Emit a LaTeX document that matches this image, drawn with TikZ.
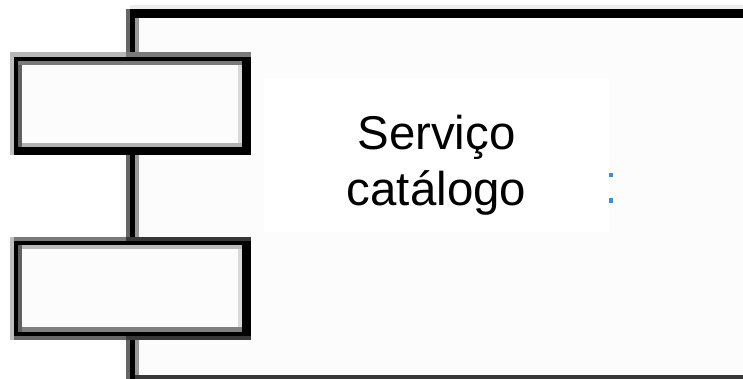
\documentclass[tikz,border=0pt]{standalone}
\usepackage{fontspec}
\setmainfont{Liberation Sans}
\definecolor{panel}{HTML}{FCFCFC}
\definecolor{dotblue}{HTML}{3A8FDC}
\tikzset{
  x=1pt,y=-1pt,
  dot/.style={fill=dotblue,inner sep=0pt,minimum width=4pt,minimum height=4.5pt,draw=none},
  labelbox/.style={fill=white,minimum width=345pt,minimum height=154pt,inner sep=0pt},
  labeltext/.style={text width=345pt,inner sep=0pt,align=center,font=\fontsize{47.4pt}{56.5pt}\selectfont}
}
\begin{document}
\begin{tikzpicture}
\useasboundingbox[fill=white] (0,0) rectangle (743,379);
% main panel
\fill[panel] (139,18) rectangle (743,375);
\fill[black!7] (130,5) rectangle (743,9);
\fill[black] (130,9) rectangle (743,18);
\fill[black!60] (126,9) rectangle (130,379);
\fill[black] (130,9) rectangle (135,379);
\fill[black!40] (135,18) rectangle (139,379);
\fill[black!78] (135,375) rectangle (743,379);
% label
\node[labelbox] (lbl) at (436.5,155) {};
\node[labeltext] (txt) at (436.5,165) {Serviço\\catálogo};
\node[dot] (d1) at (611,175) {};
\node[dot] (d2) at (611,200.5) {};
% upper port
\fill[black!28] (10,52) rectangle (126,57);
\fill[black!52] (126,52) rectangle (251,57);
\fill[black!25] (10,57) rectangle (14,155);
\fill[black] (14,57) rectangle (251,155);
\fill[panel] (18,61) rectangle (242,147);
\fill[black!52] (18,61) rectangle (242,65);
\fill[black!30] (18,143) rectangle (242,147);
\fill[black!62] (18,65) rectangle (22,147);
\fill[black!15] (238,65) rectangle (242,143);
% lower port
\fill[black!52] (14,237) rectangle (126,241);
\fill[black!78] (126,237) rectangle (251,241);
\fill[black!25] (10,237) rectangle (14,340);
\fill[black] (14,241) rectangle (251,336);
\fill[panel] (18,245) rectangle (242,332);
\fill[black!27] (18,245) rectangle (242,249);
\fill[black!50] (18,327) rectangle (242,332);
\fill[black!62] (18,245) rectangle (22,332);
\fill[black!15] (238,249) rectangle (242,327);
\fill[black!60] (14,336) rectangle (126,340);
\fill[black!78] (126,336) rectangle (251,340);
\end{tikzpicture}
\end{document}
